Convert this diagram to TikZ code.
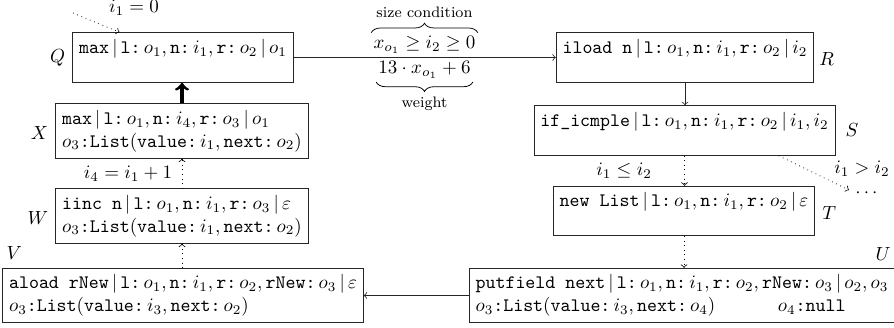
\documentclass[tikz,border=0pt]{standalone}
\usepackage{amsmath,amssymb}
\usetikzlibrary{calc,decorations.pathreplacing}

% field of a frame: name, colon, value
\newcommand{\fl}[2]{\texttt{#1:}\,#2}
% separator between the parts of a state
\newcommand{\vb}{\,|\,}
% heap entry o_k : List(value, next)
\newcommand{\lst}[3]{#1\texttt{:List}(\texttt{value:}\,#2,\texttt{next:}\,#3)}

\tikzset{
  state/.style={draw=black!85, align=left, inner sep=.3333em},
  tag/.style={inner sep=1pt},
  flow/.style={->, draw=black!85},
  cond/.style={->, dotted},
  ret/.style={->, ultra thick},
  cbrace/.style={decorate, decoration={brace, amplitude=5pt, raise=0.5pt}},
}

\begin{document}
\begin{tikzpicture}[x=0.5263pt, y=-0.5263pt]
\useasboundingbox (0,0) rectangle (894,328);

% left column
\node[state] (Q) at (183,57.5)
  {$\texttt{max}\vb\fl{l}{o_1},\fl{n}{i_1},\fl{r}{o_2}\vb o_1$\\\mbox{}};
\node[state] (X) at (182,131)
  {$\texttt{max}\vb\fl{l}{o_1},\fl{n}{i_4},\fl{r}{o_3}\vb o_1$\\$\lst{o_3}{i_1}{o_2}$};
\node[state] (W) at (182,216)
  {$\texttt{iinc n}\vb\fl{l}{o_1},\fl{n}{i_1},\fl{r}{o_3}\vb\varepsilon$\\$\lst{o_3}{i_1}{o_2}$};
\node[state] (V) at (183,295.5)
  {$\texttt{aload rNew}\vb\fl{l}{o_1},\fl{n}{i_1},\fl{r}{o_2},\fl{rNew}{o_3}\vb\varepsilon$\\$\lst{o_3}{i_3}{o_2}$};

% right column
\node[state] (R) at (685,57.5)
  {$\texttt{iload n}\vb\fl{l}{o_1},\fl{n}{i_1},\fl{r}{o_2}\vb i_2$\\\mbox{}};
\node[state] (S) at (684.5,130.5)
  {$\texttt{if\_icmple}\vb\fl{l}{o_1},\fl{n}{i_1},\fl{r}{o_2}\vb i_1,i_2$\\\mbox{}};
\node[state] (T) at (684,211)
  {$\texttt{new List}\vb\fl{l}{o_1},\fl{n}{i_1},\fl{r}{o_2}\vb\varepsilon$\\\mbox{}};
\node[state] (U) at (682,295.5)
  {$\texttt{putfield next}\vb\fl{l}{o_1},\fl{n}{i_1},\fl{r}{o_2},\fl{rNew}{o_3}\vb o_2,o_3$\\
   $\lst{o_3}{i_3}{o_4}$\hspace{3.3em}$o_4\texttt{:null}$};

% state names
\node[tag, anchor=east] (lQ) at ($(Q.west)+(-5,0)$) {$Q$};
\node[tag, anchor=east] (lX) at ($(X.west)+(-5,2)$) {$X$};
\node[tag, anchor=east] (lW) at ($(W.west)+(-5,2)$) {$W$};
\node[tag] (lV) at ($(V.north west)+(12,-15)$) {$V$};
\node[tag, anchor=west] (lR) at ($(R.east)+(3,2)$) {$R$};
\node[tag, anchor=west] (lS) at ($(S.east)+(8,0)$) {$S$};
\node[tag, anchor=west] (lT) at ($(T.east)+(5,2)$) {$T$};
\node[tag] (lU) at ($(U.north east)+(-12,-14)$) {$U$};

% initial state
\coordinate (init) at (73,13);
\node[tag] (i0) at (134,8) {$i_1=0$};
\draw[cond] (init) -- ($(Q.north west)+(47,0)$);

% loop entry with size condition and weight
\draw[flow] (Q) -- (R);
\node[tag, anchor=base] (sz) at (424.5,48.5) {$x_{o_1}\geq i_2\geq 0$};
\node[tag, anchor=base] (wt) at (424.5,74) {$13\cdot x_{o_1}+6$};
\draw[cbrace] (sz.north west) -- (sz.north east)
  node[tag, midway, above=7pt] (szl) {\footnotesize size condition};
\draw[cbrace] (wt.south east) -- (wt.south west)
  node[tag, midway, below=7pt] (wtl) {\footnotesize weight};

\draw[flow] (R.south) -- (R.south |- S.north);
\draw[cond] (S.south) -- node[tag, left=16pt] (le) {$i_1\leq i_2$} (S.south |- T.north);
\node[tag, inner sep=0pt] (dots) at (868,193) {$\cdots$};
\node[tag] (gt) at (862,169) {$i_1>i_2$};
\draw[cond] (S.-15) -- ($(dots.west)+(-6,-3)$);
\draw[cond] (T.south) -- (T.south |- U.north);
\draw[flow] (U.west) -- (V.east |- U.west);
\draw[cond] (V.north -| W.south) -- (W.south);
\draw[cond] (W.north) -- node[tag, left=4pt] (inc) {$i_4=i_1+1$} (W.north |- X.south);
\draw[ret] (X.north) -- (X.north |- Q.south);
\end{tikzpicture}
\end{document}
